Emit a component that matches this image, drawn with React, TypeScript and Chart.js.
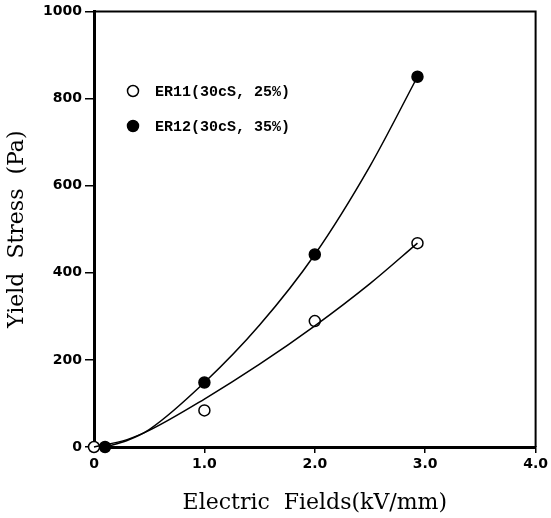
import React, { useEffect, useRef } from "react";
import { Chart, registerables } from "chart.js";

Chart.register(...registerables);

// ---- data ----
const xTickValues = [0, 1, 2, 3, 4];
const yTickValues = [0, 200, 400, 600, 800, 1000];

const er11Label = "ER11(30cS, 25%)";
const er11X = [0, 1.0, 2.0, 2.93];
const er11Y = [0, 84, 289, 468];

const er12Label = "ER12(30cS, 35%)";
const er12X = [0.1, 1.0, 2.0, 2.93];
const er12Y = [0, 148, 442, 850];

// fitted curves
const er11CurveX = [0, 0.3, 0.5, 1.0, 1.5, 2.0, 2.5, 2.93];
const er11CurveY = [0, 17, 38, 110, 190, 278, 375, 468];
const er12CurveX = [0.1, 0.3, 0.5, 1.0, 1.5, 2.0, 2.5, 2.93];
const er12CurveY = [0, 15, 40, 148, 280, 442, 645, 850];

const toPts = (xs: number[], ys: number[]) => xs.map((x, i) => ({ x, y: ys[i] }));

const boxPlugin = {
  id: "box",
  afterDraw(chart: any) {
    const { ctx, chartArea } = chart;
    ctx.save();
    ctx.strokeStyle = "#000";
    ctx.lineWidth = 2;
    ctx.beginPath();
    ctx.moveTo(chartArea.left, chartArea.top);
    ctx.lineTo(chartArea.right, chartArea.top);
    ctx.lineTo(chartArea.right, chartArea.bottom);
    ctx.stroke();
    ctx.restore();
  },
};

const legendPlugin = {
  id: "insideLegend",
  afterDraw(chart: any) {
    const { ctx } = chart;
    const items = [
      { label: er11Label, fill: "#fff", y: 91 },
      { label: er12Label, fill: "#000", y: 126 },
    ];
    ctx.save();
    items.forEach((it) => {
      ctx.beginPath();
      ctx.arc(133, it.y, 5.5, 0, Math.PI * 2);
      ctx.fillStyle = it.fill;
      ctx.fill();
      ctx.lineWidth = 1.5;
      ctx.strokeStyle = "#000";
      ctx.stroke();
      ctx.fillStyle = "#000";
      ctx.font = "bold 15px 'Liberation Mono'";
      ctx.textBaseline = "middle";
      ctx.textAlign = "left";
      ctx.fillText(it.label, 155, it.y + 1);
    });
    ctx.restore();
  },
};

export default function App() {
  const ref = useRef<HTMLCanvasElement>(null);
  useEffect(() => {
    if (!ref.current) return;
    const tickFont = { family: "'DejaVu Sans'", size: 14, weight: "bold" as const };
    const chart = new Chart(ref.current, {
      type: "scatter",
      data: {
        datasets: [
          {
            label: er11Label + " fit",
            data: toPts(er11CurveX, er11CurveY),
            showLine: true,
            borderColor: "#000",
            borderWidth: 1.5,
            pointRadius: 0,
            cubicInterpolationMode: "monotone",
            fill: false,
          } as any,
          {
            label: er12Label + " fit",
            data: toPts(er12CurveX, er12CurveY),
            showLine: true,
            borderColor: "#000",
            borderWidth: 1.5,
            pointRadius: 0,
            cubicInterpolationMode: "monotone",
            fill: false,
          } as any,
          {
            label: er11Label,
            data: toPts(er11X, er11Y),
            pointRadius: 5.5,
            pointBackgroundColor: "#fff",
            pointBorderColor: "#000",
            pointBorderWidth: 1.5,
          },
          {
            label: er12Label,
            data: toPts(er12X, er12Y),
            pointRadius: 5.5,
            pointBackgroundColor: "#000",
            pointBorderColor: "#000",
            pointBorderWidth: 1.5,
          },
        ],
      },
      options: {
        animation: false,
        responsive: false,
        clip: false as any,
        layout: { padding: { top: 8, right: 15, left: 0, bottom: 0 } },
        plugins: { legend: { display: false }, tooltip: { enabled: false } },
        scales: {
          x: {
            type: "linear",
            min: 0,
            max: 4,
            afterBuildTicks: (s: any) => {
              s.ticks = xTickValues.map((v) => ({ value: v }));
            },
            afterFit: (s: any) => {
              s.height = 71;
            },
            ticks: {
              color: "#000",
              font: tickFont,
              padding: 3,
              maxRotation: 0,
              callback: (v: any) => (Number(v) === 0 ? "0" : Number(v).toFixed(1)),
            },
            grid: { display: true, drawOnChartArea: false, drawTicks: true, tickLength: 6, color: "#000", lineWidth: 1.5 },
            border: { display: true, color: "#000", width: 3 },
            title: {
              display: true,
              text: "Electric  Fields(kV/mm)",
              color: "#000",
              font: { family: "'DejaVu Serif'", size: 22 },
              padding: { top: 0, bottom: 2 },
            },
          },
          y: {
            type: "linear",
            min: 0,
            max: 1000,
            afterBuildTicks: (s: any) => {
              s.ticks = yTickValues.map((v) => ({ value: v }));
            },
            afterFit: (s: any) => {
              s.width = 94;
            },
            ticks: { color: "#000", font: tickFont, padding: 3, callback: (v: any) => String(v) },
            grid: { display: true, drawOnChartArea: false, drawTicks: true, tickLength: 9, color: "#000", lineWidth: 1.5 },
            border: { display: true, color: "#000", width: 3 },
            title: {
              display: true,
              text: "Yield  Stress  (Pa)",
              color: "#000",
              font: { family: "'DejaVu Serif'", size: 22 },
              padding: { top: 4, bottom: 0 },
            },
          },
        },
      },
      plugins: [boxPlugin, legendPlugin],
    });
    return () => chart.destroy();
  }, []);
  return (
    <canvas
      ref={ref}
      width={551}
      height={518}
      style={{ position: "absolute", left: 0, top: 0, width: 551, height: 518, background: "#fff" }}
    />
  );
}
